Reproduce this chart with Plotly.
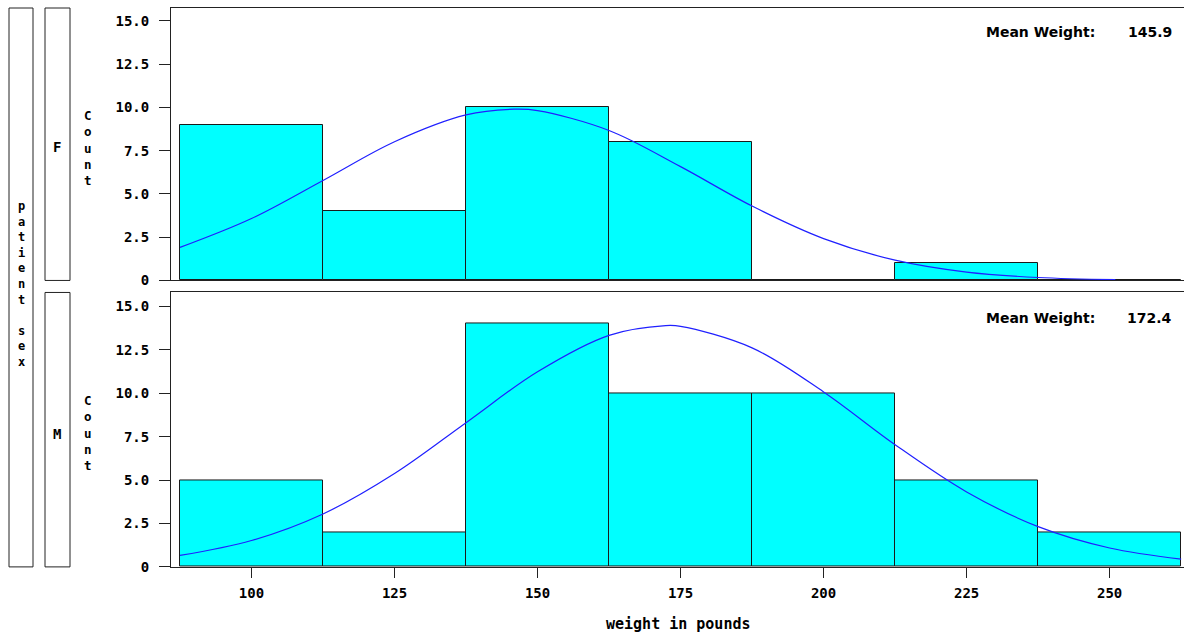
import plotly.graph_objects as go

# ---- data ----
bin_centers = [100, 125, 150, 175, 200, 225, 250]
counts_f = [9, 4, 10, 8, 0, 1, 0]
counts_m = [5, 2, 14, 10, 10, 5, 2]

curve_x_f = [87.5, 100, 112.5, 125, 137.5, 145.9, 150, 162.5, 175, 187.5, 200, 212.5, 225, 237.5, 251]
curve_y_f = [1.91, 3.58, 5.78, 8.02, 9.57, 9.9, 9.82, 8.67, 6.58, 4.30, 2.42, 1.17, 0.48, 0.17, 0.05]

curve_x_m = [87.5, 100, 112.5, 125, 137.5, 150, 162.5, 172.4, 175, 187.5, 200, 212.5, 225, 237.5, 250, 262.5]
curve_y_m = [0.66, 1.52, 3.05, 5.38, 8.31, 11.24, 13.34, 13.9, 13.86, 12.62, 10.08, 7.04, 4.32, 2.32, 1.09, 0.45]

mean_f = "145.9"
mean_m = "172.4"

y_ticks = [0, 2.5, 5, 7.5, 10, 12.5, 15]
y_ticktext = ["0", "2.5", "5.0", "7.5", "10.0", "12.5", "15.0"]
x_ticks = [100, 125, 150, 175, 200, 225, 250]

W, H = 1184, 641
REF_H = 632
def px(x):
    return x / W
def py(y):
    return 1 - y / REF_H

MONO = "DejaVu Sans Mono"
LINE = "#222222"
fig = go.Figure()

bar_style = dict(width=25, marker=dict(color="#00FFFF", line=dict(color="#1a1a1a", width=1)),
                 showlegend=False, hoverinfo="skip")
fig.add_trace(go.Bar(x=bin_centers, y=counts_f, xaxis="x", yaxis="y", **bar_style))
fig.add_trace(go.Bar(x=bin_centers, y=counts_m, xaxis="x2", yaxis="y2", **bar_style))
line_style = dict(mode="lines", line=dict(color="#2020FF", width=1.2, shape="spline"),
                  showlegend=False, hoverinfo="skip")
fig.add_trace(go.Scatter(x=curve_x_f, y=curve_y_f, xaxis="x", yaxis="y", **line_style))
fig.add_trace(go.Scatter(x=curve_x_m, y=curve_y_m, xaxis="x2", yaxis="y2", **line_style))

tick_font = dict(family=MONO, size=14, color="black", weight="bold")
xr = [85.93, 263.0]
common_x = dict(range=xr, domain=[px(171), 1], showline=True, linecolor=LINE, linewidth=1,
                mirror=True, showgrid=False, zeroline=False)
common_y = dict(showline=True, linecolor=LINE, linewidth=1, showgrid=False, zeroline=False,
                tickvals=y_ticks, ticktext=y_ticktext, ticks="outside", ticklen=11,
                tickcolor=LINE, ticklabelstandoff=7, tickfont=tick_font)

fig.update_layout(
    width=W, height=H, autosize=False,
    margin=dict(l=0, r=0, t=0, b=0),
    paper_bgcolor="white", plot_bgcolor="white",
    bargap=0,
    xaxis=dict(**common_x, anchor="y", showticklabels=False, ticks=""),
    yaxis=dict(**common_y, domain=[py(280), py(8)], range=[0, 15.75], anchor="x"),
    xaxis2=dict(**common_x, anchor="y2", tickvals=x_ticks, ticks="outside", ticklen=10,
                tickcolor=LINE, ticklabelstandoff=3, tickfont=tick_font),
    yaxis2=dict(**common_y, domain=[py(566), py(292)], range=[0, 15.81], anchor="x2"),
)

shapes = []
for (x0, x1, y0, y1) in [(9, 33, 8, 566), (45, 70, 8, 280), (45, 70, 292, 566)]:
    shapes.append(dict(type="rect", xref="paper", yref="paper", x0=px(x0), x1=px(x1),
                       y0=py(y1), y1=py(y0), line=dict(color=LINE, width=1)))
fig.update_layout(shapes=shapes)

def stacked(s):
    return "<br>".join(c if c != " " else "\u00a0" for c in s)

def note(text, x, y, font, xanchor="center"):
    return dict(text=text, x=px(x), y=py(y), xref="paper", yref="paper",
                xanchor=xanchor, yanchor="middle", showarrow=False, font=font,
                align="center")

ann = []
f12 = dict(family=MONO, size=12, color="black", weight="bold")
f125 = dict(family=MONO, size=12.5, color="black", weight="bold")
f14 = dict(family=MONO, size=14, color="black", weight="bold")
ann.append(note(stacked("patient sex"), 21, 284, f12))
ann.append(note("F", 57.5, 147, f14))
ann.append(note("M", 57.5, 433, f14))
ann.append(note(stacked("Count"), 87.5, 148, f125))
ann.append(note(stacked("Count"), 87.5, 432, f125))
ann.append(note("weight in pounds", 678, 623, dict(family=MONO, size=15, color="black", weight="bold")))
mw_font = dict(family="DejaVu Sans", size=14, color="black", weight="bold")
for yy, val in [(32, mean_f), (317, mean_m)]:
    ann.append(note("Mean Weight:", 984, yy, mw_font, xanchor="left"))
    ann.append(note(val, 1174, yy, mw_font, xanchor="right"))
fig.update_layout(annotations=ann)

css = ("var h=document.documentElement,b=document.body;"
       "h.style.margin='0';h.style.padding='0';h.style.overflow='hidden';"
       "b.style.margin='0';b.style.padding='0';b.style.overflow='hidden';")
fig.write_html("out.html", config={"displayModeBar": False, "responsive": False},
               post_script=css)
